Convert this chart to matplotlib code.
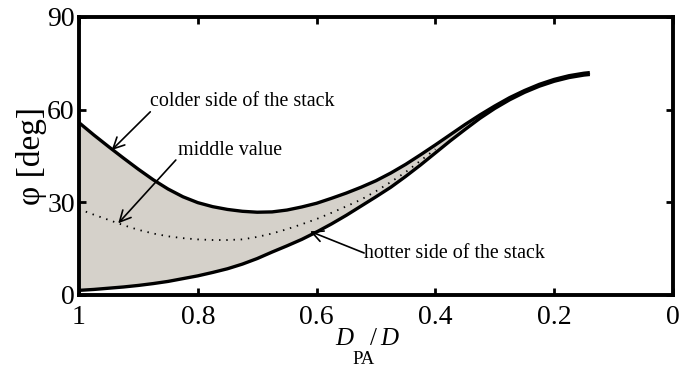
import numpy as np
import matplotlib.pyplot as plt

plt.rcParams['font.family'] = ['Liberation Serif', 'DejaVu Serif']

# D_PA / D positions where the two stack sides were read
x_edge = [1.000, 0.975, 0.950, 0.925, 0.900, 0.875, 0.850, 0.825, 0.800,
          0.775, 0.750, 0.725, 0.700, 0.675, 0.650, 0.625, 0.600, 0.575,
          0.550, 0.525, 0.500, 0.475, 0.450, 0.425, 0.400, 0.375, 0.350,
          0.325, 0.300, 0.275, 0.250, 0.225, 0.200, 0.175, 0.150, 0.140]
phi_cold = [55.8, 51.8, 48.0, 44.3, 40.7, 37.3, 34.3, 31.8, 29.9,
            28.6, 27.7, 27.1, 26.8, 26.9, 27.5, 28.5, 29.7, 31.3,
            33.0, 34.9, 37.0, 39.5, 42.3, 45.4, 48.6, 51.9, 55.2,
            58.3, 61.2, 63.9, 66.2, 68.2, 69.8, 71.0, 71.8, 72.0]
phi_hot = [1.5, 1.8, 2.2, 2.6, 3.1, 3.7, 4.4, 5.3, 6.2,
           7.3, 8.5, 10.0, 11.8, 13.9, 15.9, 18.0, 20.4, 23.0,
           25.8, 28.8, 31.8, 34.9, 38.4, 42.1, 46.0, 49.9, 53.6,
           57.2, 60.4, 63.2, 65.6, 67.6, 69.2, 70.4, 71.2, 71.4]

# middle value (dotted)
x_mid = [1.000, 0.975, 0.950, 0.925, 0.900, 0.875, 0.850, 0.825, 0.800,
         0.775, 0.750, 0.725, 0.700, 0.675, 0.650, 0.625, 0.600, 0.575,
         0.550, 0.525, 0.500, 0.475, 0.450, 0.425, 0.400]
phi_mid = [27.8, 26.0, 24.3, 22.6, 21.1, 19.9, 19.0, 18.4, 18.0,
           17.8, 17.8, 18.0, 18.8, 19.9, 21.3, 22.9, 24.6, 26.6,
           28.7, 30.9, 33.6, 36.6, 39.8, 43.5, 47.2]

W, H = 681, 369
fig = plt.figure(figsize=(W / 100, H / 100), dpi=100)
ax = fig.add_axes([79 / W, 1 - 295 / H, 594 / W, 278 / H])

ax.fill_between(x_edge, phi_hot, phi_cold, color='#d5d1ca', lw=0)
ax.plot(x_edge, phi_cold, color='k', lw=2.4, solid_capstyle='butt')
ax.plot(x_edge, phi_hot, color='k', lw=2.4, solid_capstyle='butt')
ax.plot(x_mid, phi_mid, color='k', lw=1.3, ls=(0, (0.8, 3.2)))

ax.set_xlim(1, 0)
ax.set_ylim(0, 90)
ax.set_xticks([1, 0.8, 0.6, 0.4, 0.2, 0])
ax.set_xticklabels(['1', '0.8', '0.6', '0.4', '0.2', '0'])
ax.set_yticks([0, 30, 60, 90])
ax.tick_params(direction='in', top=True, right=True, length=5, width=2,
               labelsize=20)
ax.tick_params(axis='x', pad=7)
ax.tick_params(axis='y', pad=3)
for s in ax.spines.values():
    s.set_linewidth(2.8)

ax.set_ylabel('φ [deg]', fontsize=24, labelpad=0)


def px(x, y):
    return x / W, 1 - y / H


# x label: D_PA / D
fig.text(*px(335, 345), 'D', fontsize=18, style='italic', va='baseline')
fig.text(*px(352, 364), 'PA', fontsize=13.5, va='baseline')
fig.text(*px(370, 345), '/', fontsize=18, va='baseline')
fig.text(*px(380, 345), 'D', fontsize=18, style='italic', va='baseline')

arr = dict(arrowstyle='->', color='k', lw=1.2, mutation_scale=20,
           shrinkA=0, shrinkB=0)
ax.text(0.880, 62.5, 'colder side of the stack', fontsize=14.4,
        ha='left', va='center')
ax.annotate('', xy=(0.945, 46.9), xytext=(0.880, 59.3), arrowprops=arr)
ax.text(0.833, 46.9, 'middle value', fontsize=14.4, ha='left', va='center')
ax.annotate('', xy=(0.934, 23.2), xytext=(0.837, 43.7), arrowprops=arr)
ax.text(0.520, 13.4, 'hotter side of the stack', fontsize=14.4,
        ha='left', va='center')
ax.annotate('', xy=(0.611, 20.6), xytext=(0.520, 13.6), arrowprops=arr)

fig.savefig('out.png', dpi=100)
